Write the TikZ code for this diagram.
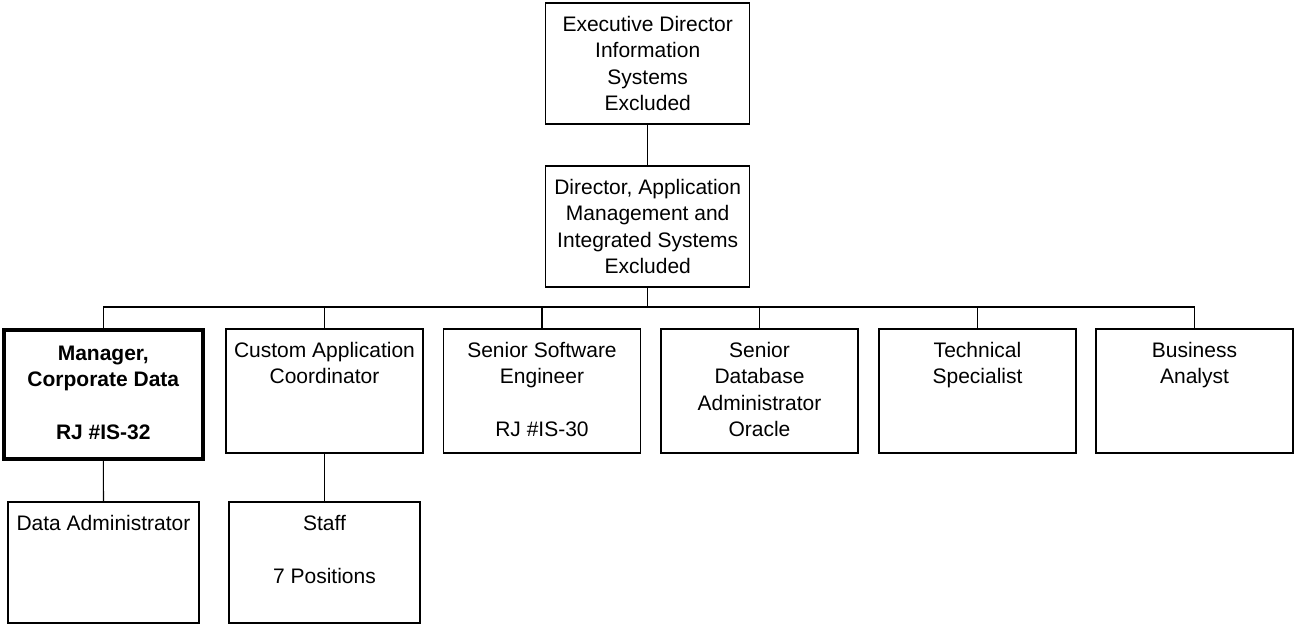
\documentclass[tikz,border=0pt]{standalone}
\usepackage{fontspec}
\setmainfont{Liberation Sans}
\newcommand{\orgfont}{\fontsize{21}{26.5}\selectfont}
\newcommand{\toptext}[4]{\parbox[c][#2][t]{#1}{\centering\rule{0pt}{#3}#4\par}}
\newcommand{\midtext}[3]{\parbox[c][#2][c]{#1}{\centering #3\par}}
\tikzset{
  orgbox/.style={draw, line width=1.1pt, inner sep=0pt, font=\orgfont},
  mgrbox/.style={orgbox, line width=4pt, font=\orgfont\bfseries},
  link/.style={line width=1.1pt},
}
\begin{document}
\begin{tikzpicture}[x=1pt,y=-1pt]
\useasboundingbox (0,0) rectangle (1294,626);
% top levels
\node[orgbox] (exec) at (647.7,63.5) {\midtext{204pt}{121pt}{Executive Director\\Information\\Systems\\Excluded}};
\node[orgbox] (dir) at (647.7,226.5) {\midtext{204pt}{121pt}{Director, Application\\Management and\\Integrated Systems\\Excluded}};
% second row
\node[mgrbox] (mgr) at (103.3,394.5) {\toptext{199pt}{129pt}{30pt}{Manager,\\Corporate Data\\[26.5pt]RJ \#IS-32}};
\node[orgbox] (cust) at (324.5,391) {\toptext{197pt}{124pt}{28pt}{Custom Application\\Coordinator}};
\node[orgbox] (sse) at (542,391) {\toptext{197pt}{124pt}{28pt}{Senior Software\\Engineer\\[26.5pt]RJ \#IS-30}};
\node[orgbox] (dba) at (759.5,391) {\toptext{197pt}{124pt}{28pt}{Senior\\Database\\Administrator\\Oracle}};
\node[orgbox] (tech) at (977.5,391) {\toptext{197pt}{124pt}{28pt}{Technical\\Specialist}};
\node[orgbox] (bus) at (1194.5,391) {\toptext{197pt}{124pt}{28pt}{Business\\Analyst}};
% third row
\node[orgbox] (dadm) at (103.5,562.5) {\toptext{191pt}{121pt}{28pt}{Data Administrator}};
\node[orgbox] (staff) at (324.5,562.5) {\toptext{191pt}{121pt}{28pt}{Staff\\[26.5pt]7 Positions}};
% connectors
\coordinate (busL) at (103.3,307);
\coordinate (busR) at (1194.5,307);
\draw[link] (exec.south) -- (dir.north);
\draw[link] (dir.south) -- (dir.south |- busL);
\draw[link] (busL) -- (busR);
\foreach \n in {mgr,cust,sse,dba,tech,bus}
  \draw[link] (\n.north) -- (\n.north |- busL);
\draw[link] (mgr.south) -- (dadm.north);
\draw[link] (cust.south) -- (staff.north);
\end{tikzpicture}
\end{document}
